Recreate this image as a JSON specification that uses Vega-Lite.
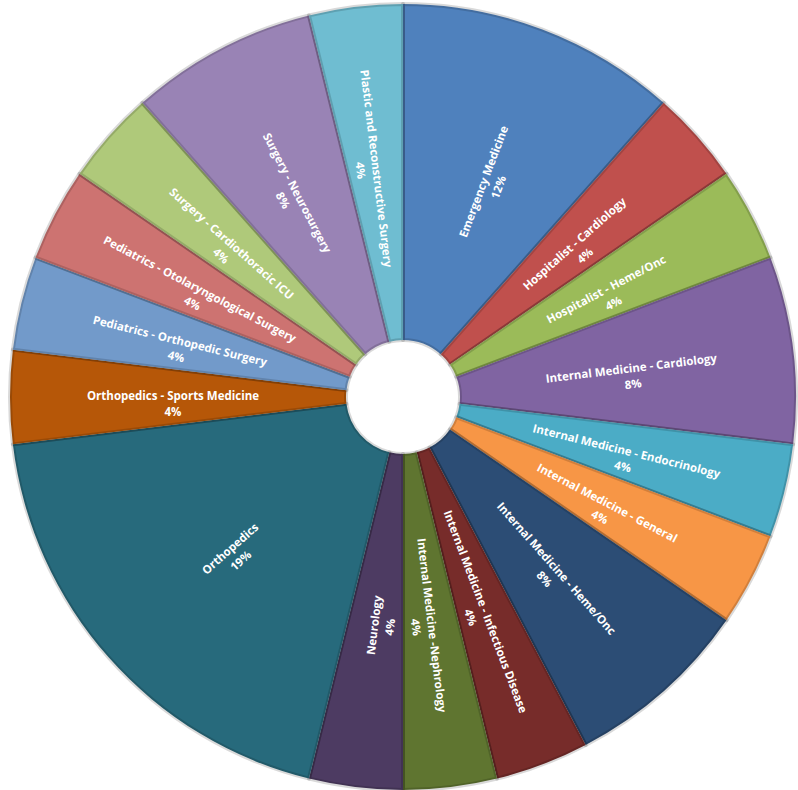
{
  "$schema": "https://vega.github.io/schema/vega-lite/v6.json",
  "width": 798,
  "height": 790,
  "autosize": {"type": "fit", "contains": "padding"},
  "padding": {"left": 8, "top": 4, "right": 0, "bottom": 0},
  "background": "white",
  "view": {"stroke": null},
  "data": {
    "values": [
      {"order": 1, "specialty": "Emergency Medicine", "count": 3, "pct": "12%"},
      {"order": 2, "specialty": "Hospitalist - Cardiology", "count": 1, "pct": "4%"},
      {"order": 3, "specialty": "Hospitalist - Heme/Onc", "count": 1, "pct": "4%"},
      {"order": 4, "specialty": "Internal Medicine - Cardiology", "count": 2, "pct": "8%"},
      {"order": 5, "specialty": "Internal Medicine - Endocrinology", "count": 1, "pct": "4%"},
      {"order": 6, "specialty": "Internal Medicine - General", "count": 1, "pct": "4%"},
      {"order": 7, "specialty": "Internal Medicine - Heme/Onc", "count": 2, "pct": "8%"},
      {"order": 8, "specialty": "Internal Medicine - Infectious Disease", "count": 1, "pct": "4%"},
      {"order": 9, "specialty": "Internal Medicine -Nephrology", "count": 1, "pct": "4%"},
      {"order": 10, "specialty": "Neurology", "count": 1, "pct": "4%"},
      {"order": 11, "specialty": "Orthopedics", "count": 5, "pct": "19%"},
      {"order": 12, "specialty": "Orthopedics - Sports Medicine", "count": 1, "pct": "4%"},
      {"order": 13, "specialty": "Pediatrics - Orthopedic Surgery", "count": 1, "pct": "4%"},
      {"order": 14, "specialty": "Pediatrics - Otolaryngological Surgery", "count": 1, "pct": "4%"},
      {"order": 15, "specialty": "Surgery - Cardiothoracic ICU", "count": 1, "pct": "4%"},
      {"order": 16, "specialty": "Surgery - Neurosurgery", "count": 2, "pct": "8%"},
      {"order": 17, "specialty": "Plastic and Reconstructive Surgery", "count": 1, "pct": "4%"}
    ]
  },
  "transform": [
    {"window": [{"op": "sum", "field": "count", "as": "cum"}], "sort": [{"field": "order"}], "frame": [null, 0]},
    {"joinaggregate": [{"op": "sum", "field": "count", "as": "total"}]},
    {"calculate": "(datum.cum - datum.count / 2) / datum.total * 360", "as": "mid"},
    {"calculate": "datum.mid < 180 ? datum.mid - 90 : datum.mid - 270", "as": "labelAngle"},
    {"calculate": "[datum.specialty, datum.pct]", "as": "label"}
  ],
  "encoding": {
    "theta": {"field": "count", "type": "quantitative", "stack": true},
    "order": {"field": "order", "type": "quantitative"}
  },
  "layer": [
    {
      "mark": {"type": "arc", "innerRadius": 57, "outerRadius": 393, "stroke": "#000000", "strokeOpacity": 0.15, "strokeWidth": 4, "strokeJoin": "round"},
      "encoding": {
        "color": {
          "field": "specialty",
          "type": "nominal",
          "sort": {"field": "order"},
          "legend": null,
          "scale": {
            "domain": [
              "Emergency Medicine", "Hospitalist - Cardiology", "Hospitalist - Heme/Onc",
              "Internal Medicine - Cardiology", "Internal Medicine - Endocrinology", "Internal Medicine - General",
              "Internal Medicine - Heme/Onc", "Internal Medicine - Infectious Disease", "Internal Medicine -Nephrology",
              "Neurology", "Orthopedics", "Orthopedics - Sports Medicine", "Pediatrics - Orthopedic Surgery",
              "Pediatrics - Otolaryngological Surgery", "Surgery - Cardiothoracic ICU", "Surgery - Neurosurgery",
              "Plastic and Reconstructive Surgery"
            ],
            "range": [
              "#4F81BD", "#C0504D", "#9BBB59", "#8064A2", "#4BACC6", "#F79646",
              "#2C4D75", "#772C2A", "#5F7530", "#4D3B62", "#276A7C", "#B65708",
              "#729ACA", "#CD7371", "#AFC97A", "#9983B5", "#6FBDD1"
            ]
          }
        }
      }
    },
    {
      "mark": {"type": "text", "radius": 230, "fill": "white", "fontSize": 11.5, "fontWeight": "bold", "font": "Open Sans", "align": "center", "baseline": "middle", "lineHeight": 16},
      "encoding": {
        "text": {"field": "label"},
        "angle": {"field": "labelAngle", "type": "quantitative", "scale": null}
      }
    }
  ]
}
